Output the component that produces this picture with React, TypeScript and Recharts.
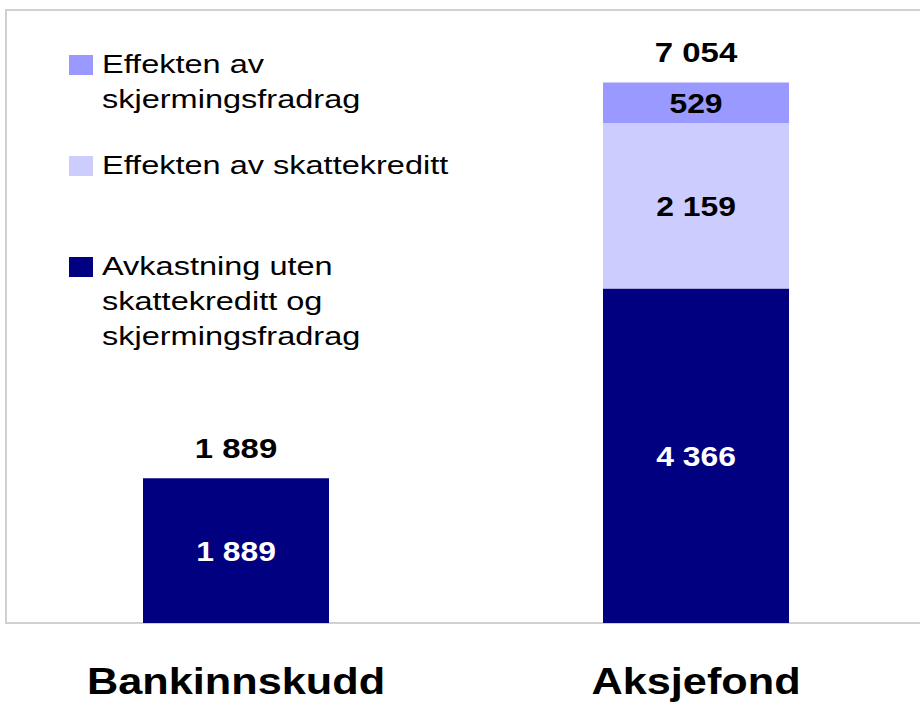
import React from 'react';
import { BarChart, Bar, XAxis, YAxis, Legend, LabelList, ReferenceArea } from 'recharts';

const categories = ['Bankinnskudd', 'Aksjefond'];
const avkastning: (number | null)[] = [1889, 4366];
const skattekreditt: (number | null)[] = [null, 2159];
const skjerming: (number | null)[] = [null, 529];
const totals = [1889, 7054];

const seriesKeys = ['avk', 'skatt', 'skj'];
const seriesNames = [
  'Avkastning uten\nskattekreditt og\nskjermingsfradrag',
  'Effekten av skattekreditt',
  'Effekten av\nskjermingsfradrag',
];
const seriesColors = ['#000080', '#CCCCFF', '#9999FF'];
const labelColors = ['#ffffff', '#000000', '#000000'];

const data = categories.map((name, i) => ({
  name,
  avk: avkastning[i],
  skatt: skattekreditt[i],
  skj: skjerming[i],
  total: totals[i],
}));

const FONT = '"Liberation Sans", Arial, Helvetica, sans-serif';
const fmt = (v: number) => String(v).replace(/\B(?=(\d{3})+(?!\d))/g, ' ');

const topKey = (i: number) => {
  const d: any = data[i];
  let k = 'avk';
  for (const s of seriesKeys) if (d[s] != null) k = s;
  return k;
};

const makeInner = (color: string) => (p: any) => {
  const { x, y, width, height, value } = p;
  if (value == null || !height) return null;
  const cx = Number(x) + Number(width) / 2;
  const cy = Number(y) + Number(height) / 2 + 10;
  return (
    <text
      transform={`translate(${cx},${cy}) scale(1.18,1)`}
      x={0}
      y={0}
      textAnchor="middle"
      fontFamily={FONT}
      fontWeight="bold"
      fontSize={27}
      fill={color}
    >
      {fmt(Number(value))}
    </text>
  );
};

// value passed is the category name; look up the total for that category
const makeTotal = (key: string) => (p: any) => {
  const { x, y, width, value } = p;
  const idx = categories.indexOf(String(value));
  if (idx < 0 || topKey(idx) !== key) return null;
  const cx = Number(x) + Number(width) / 2;
  const cy = Number(y) - 20;
  return (
    <text
      transform={`translate(${cx},${cy}) scale(1.22,1)`}
      x={0}
      y={0}
      textAnchor="middle"
      fontFamily={FONT}
      fontWeight="bold"
      fontSize={27}
      fill="#000000"
    >
      {fmt(totals[idx])}
    </text>
  );
};

const CategoryTick = (p: any) => {
  const { x, y, payload } = p;
  return (
    <text
      transform={`translate(${x},${Number(y) + 71}) scale(1.17,1)`}
      x={0}
      y={0}
      textAnchor="middle"
      fontFamily={FONT}
      fontWeight="bold"
      fontSize={37}
      fill="#000000"
    >
      {payload.value}
    </text>
  );
};

const legendOrder = [2, 1, 0];

const renderLegend = () => (
  <div style={{ position: 'relative', width: 480, height: 400, fontFamily: FONT }}>
    {legendOrder.map((si, row) => (
      <div key={si} style={{ position: 'absolute', left: 0, top: 47 + row * 101, width: 480 }}>
        <div
          style={{
            position: 'absolute',
            left: 69,
            top: 8,
            width: 24,
            height: 20,
            background: seriesColors[si],
          }}
        />
        <div
          style={{
            position: 'absolute',
            left: 102,
            top: 0,
            fontSize: 25,
            lineHeight: '35px',
            whiteSpace: 'pre',
            color: '#000',
            transform: 'scaleX(1.3)',
            transformOrigin: 'left top',
          }}
        >
          {seriesNames[si]}
        </div>
      </div>
    ))}
  </div>
);

export default function App() {
  return (
    <div
      style={{
        position: 'absolute',
        left: 0,
        top: 0,
        width: 920,
        height: 703,
        overflow: 'hidden',
        background: '#ffffff',
      }}
    >
      <BarChart
        width={930}
        height={703}
        data={data}
        margin={{ top: 10, right: 4, bottom: 0, left: 6 }}
        barSize={186}
      >
        <XAxis
          dataKey="name"
          axisLine={false}
          tickLine={false}
          tickSize={0}
          tickMargin={0}
          height={80}
          interval={0}
          tick={<CategoryTick />}
        />
        <YAxis hide domain={[0, 8000]} type="number" />
        <ReferenceArea
          y1={0}
          y2={8000}
          fill="none"
          fillOpacity={0}
          stroke="#d0d0d0"
          strokeWidth={2}
          ifOverflow="visible"
        />
        <Legend
          layout="vertical"
          align="center"
          verticalAlign="middle"
          wrapperStyle={{ position: 'absolute', left: 0, top: 0, width: 480, height: 400 }}
          content={renderLegend}
        />
        {seriesKeys.map((k, i) => (
          <Bar
            key={k}
            dataKey={k}
            name={seriesNames[i]}
            stackId="a"
            fill={seriesColors[i]}
            isAnimationActive={false}
          >
            <LabelList dataKey={k} content={makeInner(labelColors[i])} />
            <LabelList dataKey="name" content={makeTotal(k)} />
          </Bar>
        ))}
      </BarChart>
    </div>
  );
}
